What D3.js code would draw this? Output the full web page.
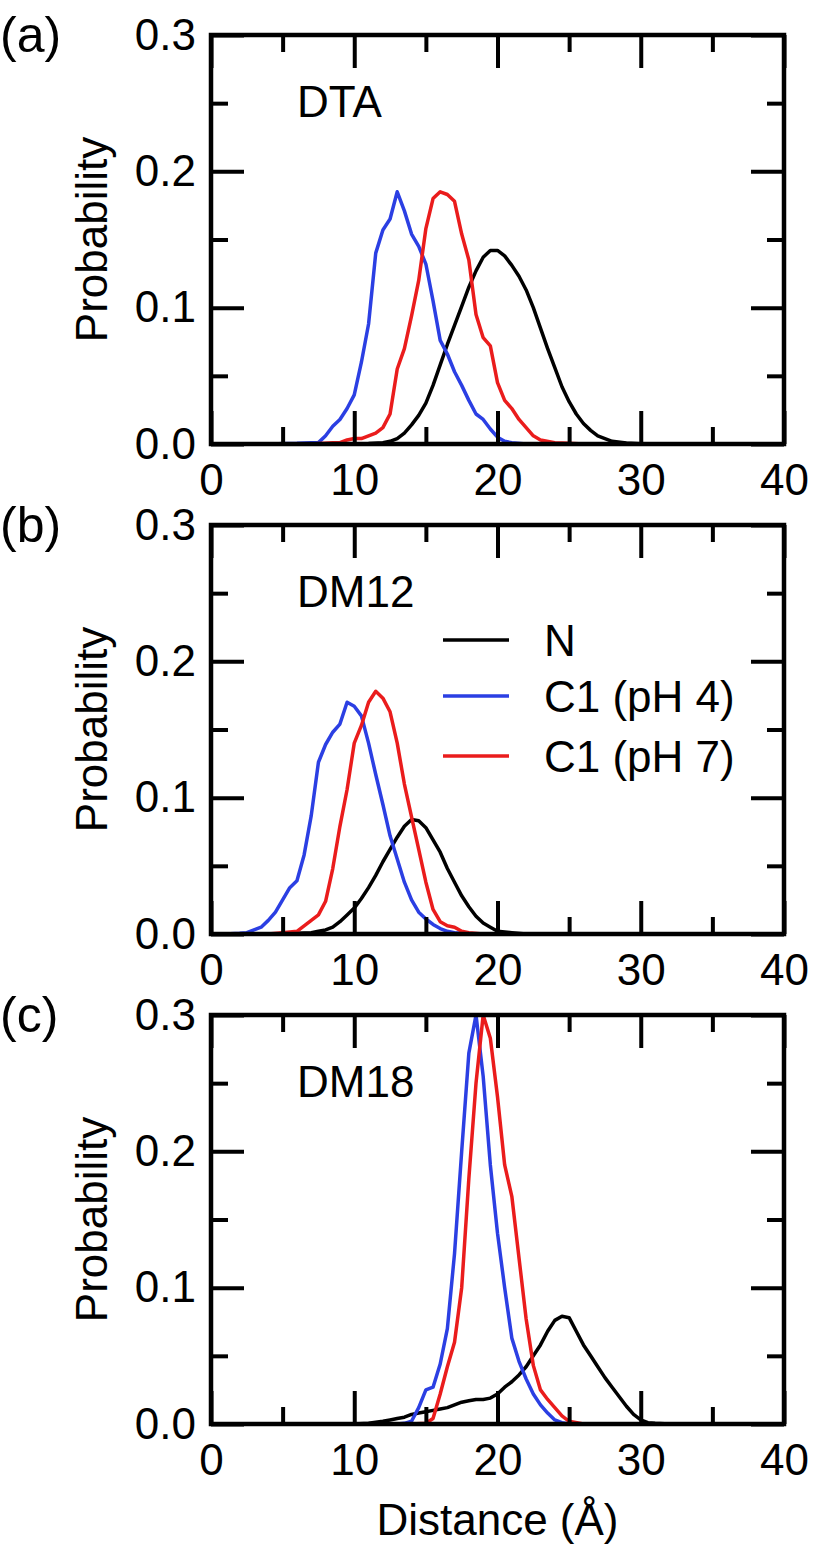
<!DOCTYPE html>
<style>
body { margin: 0; background: #fff; }
svg text { font-family: "Liberation Sans", Arial, Helvetica, sans-serif; fill: #000; }
.axis .domain { display: none; }
.axis line { stroke: #000; stroke-width: 4; }
</style>
<svg width="814" height="1546"></svg>
<script src="https://d3js.org/d3.v7.min.js"></script>
<script>

// panel labels and series names
var panelTags = ["(a)", "(b)", "(c)"];
var panelNames = ["DTA", "DM12", "DM18"];
var seriesNames = ["N", "C1 (pH 4)", "C1 (pH 7)"];
var seriesColors = ["#000000", "#2b3fe3", "#ea1c1c"];

var xMajor = [0, 10, 20, 30, 40];
var xMinor = [5, 15, 25, 35];
var yMajor = [0, 0.1, 0.2, 0.3];
var yMinor = [0.05, 0.15, 0.25];

// [distance (A), probability]
var dtaN = [[0,0],[11,0.0003],[12,0.001],[12.5,0.002],[13,0.004],[13.5,0.008],[14,0.014],[14.5,0.021],[15,0.03],[15.5,0.043],[16,0.058],[16.5,0.073],[17,0.087],[17.5,0.101],[18,0.115],[18.5,0.127],[19,0.137],[19.5,0.142],[20,0.142],[20.5,0.138],[21,0.131],[21.5,0.123],[22,0.113],[22.5,0.1],[23,0.085],[23.5,0.07],[24,0.056],[24.5,0.042],[25,0.031],[25.5,0.022],[26,0.015],[26.5,0.01],[27,0.006],[28,0.002],[29,0.0008],[30,0.0002],[32,0]];
var dtaC1pH4 = [[4,0],[6,0.0005],[7,0.001],[7.5,0.001],[8,0.006],[8.5,0.013],[9,0.018],[9.5,0.026],[10,0.036],[10.5,0.06],[11,0.088],[11.5,0.14],[12,0.157],[12.5,0.165],[13,0.185],[13.5,0.171],[14,0.154],[14.5,0.145],[15,0.132],[15.5,0.105],[16,0.076],[16.5,0.066],[17,0.053],[17.5,0.043],[18,0.032],[18.5,0.022],[19,0.018],[19.5,0.011],[20,0.005],[20.5,0.002],[21,0.001],[22,0],[24,0]];
var dtaC1pH7 = [[7,0],[8.5,0.001],[9,0.001],[9.5,0.003],[10,0.004],[10.5,0.004],[11,0.006],[11.5,0.008],[12,0.012],[12.5,0.022],[13,0.055],[13.5,0.07],[14,0.094],[14.5,0.12],[15,0.158],[15.5,0.18],[16,0.185],[16.5,0.183],[17,0.178],[17.5,0.154],[18,0.135],[18.5,0.095],[19,0.078],[19.5,0.072],[20,0.045],[20.5,0.032],[21,0.026],[21.5,0.018],[22,0.012],[22.5,0.006],[23,0.003],[24,0.001],[25,0.0005],[26,0]];

var dm12N = [[4,0],[6,0.0005],[7,0.001],[7.5,0.002],[8,0.003],[8.5,0.005],[9,0.009],[9.5,0.014],[10,0.019],[10.5,0.026],[11,0.034],[11.5,0.043],[12,0.053],[12.5,0.062],[13,0.071],[13.5,0.079],[14,0.084],[14.5,0.083],[15,0.078],[15.5,0.069],[16,0.06],[16.5,0.048],[17,0.038],[17.5,0.028],[18,0.02],[18.5,0.013],[19,0.008],[19.5,0.005],[20,0.002],[21,0.001],[22,0]];
var dm12C1pH4 = [[1,0],[2,0.0005],[2.5,0.001],[3,0.003],[3.5,0.005],[4,0.01],[4.5,0.016],[5,0.025],[5.5,0.034],[6,0.039],[6.5,0.058],[7,0.087],[7.5,0.126],[8,0.139],[8.5,0.148],[9,0.154],[9.5,0.17],[10,0.167],[10.5,0.16],[11,0.14],[11.5,0.117],[12,0.095],[12.5,0.072],[13,0.055],[13.5,0.038],[14,0.025],[14.5,0.016],[15,0.011],[15.5,0.007],[16,0.004],[16.5,0.002],[17,0.001],[18,0]];
var dm12C1pH7 = [[4,0],[5,0.001],[6,0.002],[6.5,0.006],[7,0.01],[7.5,0.014],[8,0.024],[8.5,0.048],[9,0.079],[9.5,0.106],[10,0.14],[10.5,0.153],[11,0.17],[11.5,0.178],[12,0.173],[12.5,0.163],[13,0.14],[13.5,0.11],[14,0.086],[14.5,0.062],[15,0.038],[15.5,0.018],[16,0.009],[16.5,0.006],[17,0.005],[17.5,0.002],[18,0.001],[19,0]];

var dm18N = [[10,0],[11,0.0005],[12,0.002],[12.5,0.003],[13,0.004],[13.5,0.005],[14,0.007],[14.5,0.008],[15,0.009],[15.5,0.01],[16,0.011],[16.5,0.012],[17,0.014],[17.5,0.016],[18,0.017],[18.5,0.018],[19,0.018],[19.5,0.019],[20,0.022],[20.5,0.027],[21,0.031],[21.5,0.036],[22,0.042],[22.5,0.05],[23,0.058],[23.5,0.068],[24,0.076],[24.5,0.079],[25,0.078],[25.5,0.068],[26,0.058],[26.5,0.05],[27,0.042],[27.5,0.034],[28,0.027],[28.5,0.02],[29,0.013],[29.5,0.007],[30,0.003],[30.5,0.001],[31,0.0005],[32,0]];
var dm18C1pH4 = [[13,0],[13.5,0.0005],[14,0.002],[14.5,0.012],[15,0.025],[15.5,0.027],[16,0.044],[16.5,0.07],[17,0.125],[17.5,0.2],[18,0.272],[18.5,0.3],[19,0.255],[19.5,0.19],[20,0.14],[20.5,0.1],[21,0.063],[21.5,0.046],[22,0.033],[22.5,0.022],[23,0.014],[23.5,0.008],[24,0.003],[24.5,0.001],[25,0]];
var dm18C1pH7 = [[14,0],[15,0.0005],[15.5,0.004],[16,0.022],[16.5,0.042],[17,0.06],[17.5,0.1],[18,0.18],[18.5,0.25],[19,0.3],[19.5,0.283],[20,0.24],[20.5,0.19],[21,0.167],[21.5,0.122],[22,0.077],[22.5,0.043],[23,0.025],[23.5,0.018],[24,0.012],[24.5,0.006],[25,0.002],[26,0]];

var panels = [
  [dtaN, dtaC1pH4, dtaC1pH7],
  [dm12N, dm12C1pH4, dm12C1pH7],
  [dm18N, dm18C1pH4, dm18C1pH7]
];

var svg = d3.select("svg"),
    left = 211, right = 784,
    top0 = 35, step = 490, h = 409;

var x = d3.scaleLinear().domain([0, 40]).range([left, right]);

panels.forEach(function(series, i) {
  var top = top0 + i * step,
      y = d3.scaleLinear().domain([0, 0.3]).range([top + h, top]);

  var clipId = "clip" + i;
  svg.append("clipPath").attr("id", clipId)
    .append("rect")
      .attr("x", left).attr("y", top)
      .attr("width", right - left).attr("height", h);

  var path = d3.line()
      .x(function(d) { return x(d[0]); })
      .y(function(d) { return y(d[1]); });

  svg.append("g")
      .attr("clip-path", "url(#" + clipId + ")")
    .selectAll("path")
    .data(series)
    .enter().append("path")
      .attr("d", path)
      .attr("fill", "none")
      .attr("stroke", function(d, k) { return seriesColors[k]; })
      .attr("stroke-width", 3.5)
      .attr("stroke-linejoin", "round");

  // bottom
  svg.append("g").attr("class", "axis")
      .attr("transform", "translate(0," + (top + h) + ")")
      .call(d3.axisBottom(x).tickValues(xMajor).tickSize(-33).tickPadding(20).tickFormat(d3.format("d")))
      .selectAll("text").attr("font-size", 44);
  svg.append("g").attr("class", "axis")
      .attr("transform", "translate(0," + (top + h) + ")")
      .call(d3.axisBottom(x).tickValues(xMinor).tickSize(-17).tickFormat(""));
  // top
  svg.append("g").attr("class", "axis")
      .attr("transform", "translate(0," + top + ")")
      .call(d3.axisTop(x).tickValues(xMajor).tickSize(-33).tickFormat(""));
  svg.append("g").attr("class", "axis")
      .attr("transform", "translate(0," + top + ")")
      .call(d3.axisTop(x).tickValues(xMinor).tickSize(-17).tickFormat(""));
  // left
  svg.append("g").attr("class", "axis")
      .attr("transform", "translate(" + left + ",0)")
      .call(d3.axisLeft(y).tickValues(yMajor).tickSize(-33).tickPadding(15).tickFormat(d3.format(".1f")))
      .selectAll("text").attr("font-size", 44);
  svg.append("g").attr("class", "axis")
      .attr("transform", "translate(" + left + ",0)")
      .call(d3.axisLeft(y).tickValues(yMinor).tickSize(-17).tickFormat(""));
  // right
  svg.append("g").attr("class", "axis")
      .attr("transform", "translate(" + right + ",0)")
      .call(d3.axisRight(y).tickValues(yMajor).tickSize(-33).tickFormat(""));
  svg.append("g").attr("class", "axis")
      .attr("transform", "translate(" + right + ",0)")
      .call(d3.axisRight(y).tickValues(yMinor).tickSize(-17).tickFormat(""));

  svg.append("rect")
      .attr("x", left).attr("y", top)
      .attr("width", right - left).attr("height", h)
      .attr("fill", "none")
      .attr("stroke", "#000")
      .attr("stroke-width", 4.5);

  svg.append("text")
      .attr("x", 0).attr("y", top + 17)
      .attr("font-size", 50)
      .text(panelTags[i]);

  svg.append("text")
      .attr("x", 297).attr("y", top + 82)
      .attr("font-size", 44)
      .text(panelNames[i]);

  svg.append("text")
      .attr("transform", "translate(107," + (top + h / 2) + ") rotate(-90)")
      .attr("text-anchor", "middle")
      .attr("font-size", 44)
      .text("Probability");

  if (i === 1) {
    var legend = svg.append("g")
      .selectAll("g")
      .data(seriesNames)
      .enter().append("g")
        .attr("transform", function(d, k) { return "translate(443," + (top + [115, 171, 231][k]) + ")"; });

    legend.append("line")
        .attr("x1", 0).attr("x2", 66)
        .attr("stroke", function(d, k) { return seriesColors[k]; })
        .attr("stroke-width", 3.5);

    legend.append("text")
        .attr("x", 101).attr("y", 16)
        .attr("font-size", 44)
        .text(function(d) { return d; });
  }
});

svg.append("text")
    .attr("x", (left + right) / 2).attr("y", 1535)
    .attr("text-anchor", "middle")
    .attr("font-size", 44)
    .text("Distance (\u00C5)");

</script>
